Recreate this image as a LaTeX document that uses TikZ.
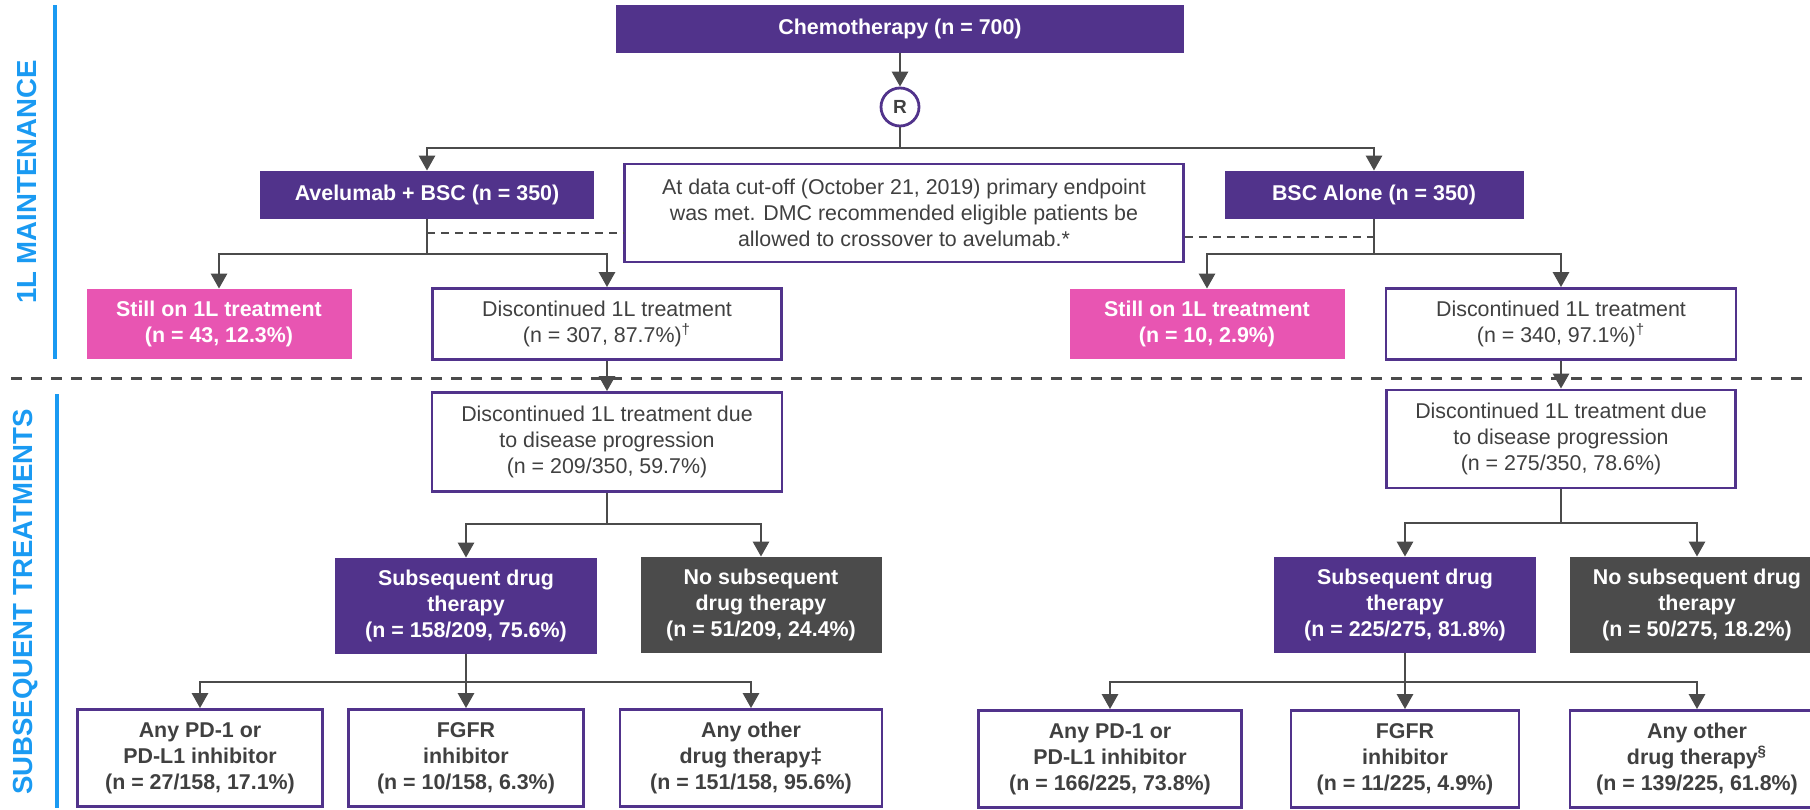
\documentclass[tikz,border=0pt]{standalone}
\usepackage{fontspec}
\setmainfont{Liberation Sans}
\usetikzlibrary{positioning,calc,arrows.meta}
\definecolor{studypurple}{HTML}{51338B}
\definecolor{stillpink}{HTML}{E855B2}
\definecolor{nonegray}{HTML}{4B4B4B}
\definecolor{linegray}{HTML}{4B4B4B}
\definecolor{textgray}{HTML}{404040}
\definecolor{phaseblue}{HTML}{1A9AF2}

\tikzset{
  sz/.style 2 args={minimum width=#1*0.5pt, minimum height=#2*0.5pt},
  boxtext/.style={align=center, inner sep=0pt, font=\fontsize{10.7}{13}\selectfont},
  boldtext/.style={align=center, inner sep=0pt, font=\fontsize{10.7}{13}\selectfont\bfseries},
  armbox/.style={boldtext, fill=studypurple, text=white},
  pinkbox/.style={boldtext, fill=stillpink, text=white},
  nonebox/.style={boldtext, fill=nonegray, text=white},
  outbox/.style={boxtext, draw=studypurple, line width=1.4pt, fill=white, text=textgray},
  outboldbox/.style={boldtext, draw=studypurple, line width=1.4pt, fill=white, text=textgray},
  randcircle/.style={circle, draw=studypurple, line width=1.4pt, fill=white, text=textgray,
    minimum size=19pt, inner sep=0pt, font=\fontsize{9.5}{11}\selectfont\bfseries},
  link/.style={draw=linegray, line width=1.4pt},
  conn/.style={link, -{Triangle[width=8pt,length=7.5pt]}},
  crossdash/.style={draw=linegray, line width=1pt, dash pattern=on 4pt off 3pt},
  phasesep/.style={draw=linegray, line width=1.5pt, dash pattern=on 5.5pt off 4.5pt},
  phasebar/.style={draw=phaseblue, line width=2pt},
  phaselabel/.style={rotate=90, text=phaseblue, inner sep=0pt,
    font=\fontsize{13.8}{16}\selectfont\bfseries}
}

\begin{document}
\begin{tikzpicture}[x=0.5pt, y=-0.5pt]
  \useasboundingbox (0,0) rectangle (1810,809);
  \clip (0,0) rectangle (1810,809);

  % phase labels and bars
  \node[phaselabel] (maintlbl) at (27,182) {1L MAINTENANCE};
  \node[phaselabel] (subslbl) at (26,602) {SUBSEQUENT TREATMENTS};
  \draw[phasebar] (55,5) -- (55,359);
  \draw[phasebar] (57,394) -- (57,808);
  \draw[phasesep] (11,378) -- (1810,378);

  % randomisation
  \node[armbox, sz={568}{48}] (chemo) at (900,29) {Chemotherapy (n = 700)};
  \node[randcircle] (rnd) at (900,107) {R};
  \node[armbox, sz={334}{48}] (avel) at (427,195) {Avelumab + BSC (n = 350)};
  \node[armbox, sz={299}{48}] (bsc) at (1374,195) {BSC Alone (n = 350)};
  \node[outbox, sz={559}{98}] (note) at (904,213) {At data cut-off (October 21, 2019) primary endpoint\\was met. DMC recommended eligible patients be\\allowed to crossover to avelumab.*};

  % 1L status
  \node[pinkbox, sz={265}{70}] (still1) at (219,324) {Still on 1L treatment\\(n = 43, 12.3\%)};
  \node[outbox, sz={349}{71}] (disc1) at (607,324) {Discontinued 1L treatment\\(n = 307, 87.7\%)\textsuperscript{†}};
  \node[pinkbox, sz={275}{70}] (still2) at (1207,324) {Still on 1L treatment\\(n = 10, 2.9\%)};
  \node[outbox, sz={350}{71}] (disc2) at (1561,324) {Discontinued 1L treatment\\(n = 340, 97.1\%)\textsuperscript{†}};

  % progression
  \node[outbox, sz={350}{99}] (prog1) at (607,442) {Discontinued 1L treatment due\\to disease progression\\(n = 209/350, 59.7\%)};
  \node[outbox, sz={349}{98}] (prog2) at (1561,439) {Discontinued 1L treatment due\\to disease progression\\(n = 275/350, 78.6\%)};

  % subsequent therapy
  \node[armbox, sz={262}{96}] (subs1) at (466,606) {Subsequent drug\\therapy\\(n = 158/209, 75.6\%)};
  \node[nonebox, sz={241}{96}] (nosub1) at (761,605) {No subsequent\\drug therapy\\(n = 51/209, 24.4\%)};
  \node[armbox, sz={262}{96}] (subs2) at (1405,605) {Subsequent drug\\therapy\\(n = 225/275, 81.8\%)};
  \node[nonebox, sz={254}{96}] (nosub2) at (1697,605) {No subsequent drug\\therapy\\(n = 50/275, 18.2\%)};

  % drug classes
  \node[outboldbox, sz={245}{97}] (pdone1) at (200,758) {Any PD-1 or\\PD-L1 inhibitor\\(n = 27/158, 17.1\%)};
  \node[outboldbox, sz={235}{97}] (fgfr1) at (466,758) {FGFR\\inhibitor\\(n = 10/158, 6.3\%)};
  \node[outboldbox, sz={262}{97}] (other1) at (751,758) {Any other\\drug therapy‡\\(n = 151/158, 95.6\%)};
  \node[outboldbox, sz={263}{97}] (pdone2) at (1110,759) {Any PD-1 or\\PD-L1 inhibitor\\(n = 166/225, 73.8\%)};
  \node[outboldbox, sz={228}{97}] (fgfr2) at (1405,759) {FGFR\\inhibitor\\(n = 11/225, 4.9\%)};
  \node[outboldbox, sz={254}{97}] (other2) at (1697,759) {Any other\\drug therapy\textsuperscript{§}\\(n = 139/225, 61.8\%)};

  % split points
  \coordinate (rsplit) at (900,148);
  \coordinate (asplit) at (427,254);
  \coordinate (bsplit) at (1374,254);
  \coordinate (adash) at (427,233);
  \coordinate (bdash) at (1374,237);
  \coordinate (p1split) at (607,524);
  \coordinate (p2split) at (1561,523);
  \coordinate (s1split) at (466,682);
  \coordinate (s2split) at (1405,682);

  % connectors
  \draw[conn] (chemo) -- (rnd);
  \draw[link] (rnd) -- (rsplit);
  \draw[conn] (rsplit) -| (avel);
  \draw[conn] (rsplit) -| (bsc);

  \draw[crossdash] (adash) -- (adash -| note.west);
  \draw[crossdash] (note.east |- bdash) -- (bdash);

  \draw[link] (avel) -- (asplit);
  \draw[conn] (asplit) -| (still1);
  \draw[conn] (asplit) -| (disc1);
  \draw[link] (bsc) -- (bsplit);
  \draw[conn] (bsplit) -| (still2);
  \draw[conn] (bsplit) -| (disc2);

  \draw[conn] (disc1) -- (prog1);
  \draw[conn] (disc2) -- (prog2);

  \draw[link] (prog1) -- (p1split);
  \draw[conn] (p1split) -| (subs1);
  \draw[conn] (p1split) -| (nosub1);
  \draw[link] (prog2) -- (p2split);
  \draw[conn] (p2split) -| (subs2);
  \draw[conn] (p2split) -| (nosub2);

  \draw[link] (subs1) -- (s1split);
  \draw[conn] (s1split) -| (pdone1);
  \draw[conn] (s1split) -- (fgfr1);
  \draw[conn] (s1split) -| (other1);
  \draw[link] (subs2) -- (s2split);
  \draw[conn] (s2split) -| (pdone2);
  \draw[conn] (s2split) -- (fgfr2);
  \draw[conn] (s2split) -| (other2);
\end{tikzpicture}
\end{document}
